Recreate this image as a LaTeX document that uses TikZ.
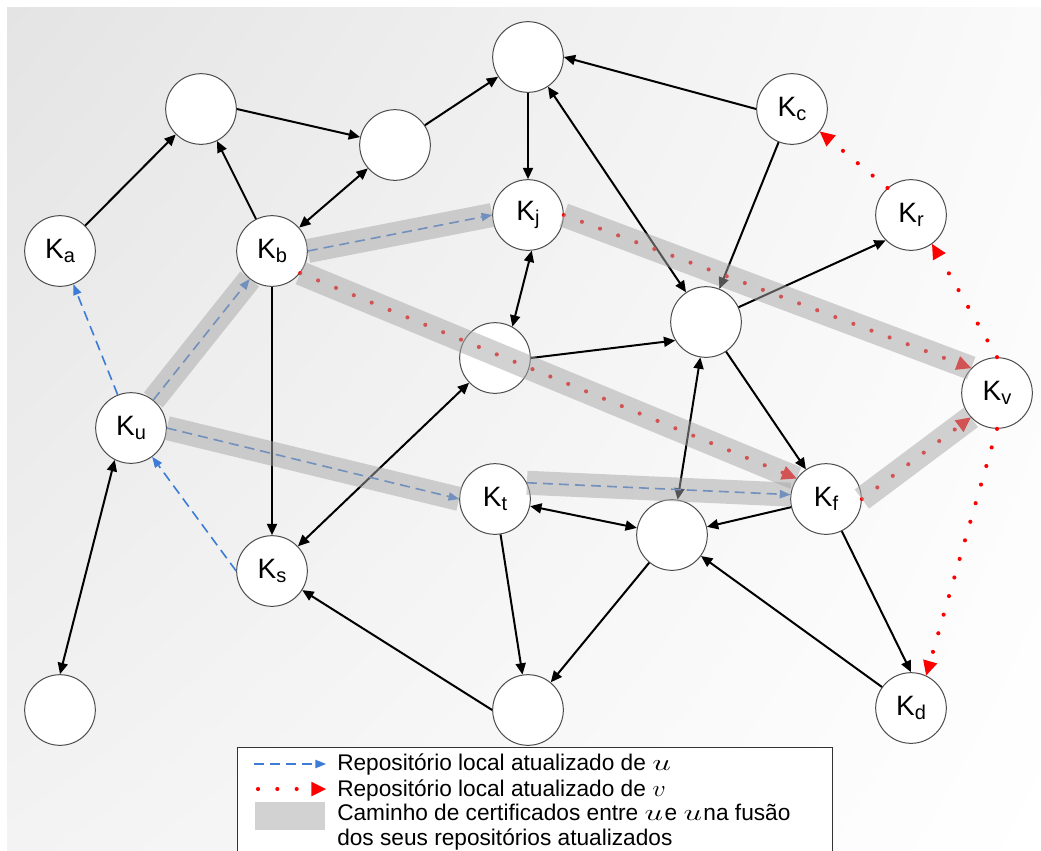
\documentclass[tikz,border=0pt]{standalone}
\usepackage{fontspec}
\usepackage{graphicx}
\setmainfont{Liberation Sans}
\usetikzlibrary{arrows.meta,shadings}
\definecolor{bluearr}{HTML}{3C7BD6}
\definecolor{redarr}{HTML}{FF0000}
\definecolor{bandgray}{HTML}{A6A6A6}
\definecolor{bgtl}{HTML}{E4E4E4}
\definecolor{bgtr}{HTML}{FAFAFA}
\definecolor{bgbl}{HTML}{F3F3F3}
\newcommand{\Klab}[1]{K\raisebox{-3.5pt}{\fontsize{15}{15}\selectfont #1}}
\newcommand{\mU}{\scalebox{1.45}[1.0]{$u$}}
\newcommand{\mV}{\scalebox{1.15}[1.0]{$v$}}
\begin{document}
\begin{tikzpicture}[x=0.75pt,y=-0.75pt,
  knode/.style={circle, draw=black!70, line width=0.75pt, fill=white, minimum size=53pt, inner sep=0pt, font=\fontsize{21}{21}\selectfont},
  edge/.style={line width=1.5pt, -{Triangle[length=8.5pt,width=7.5pt]}},
  bedge/.style={line width=1.5pt, {Triangle[length=8.5pt,width=7.5pt]}-{Triangle[length=8.5pt,width=7.5pt]}},
  uarr/.style={draw=bluearr, line width=1.2pt, dash pattern=on 7.5pt off 4.5pt, -{Triangle[length=8pt,width=6.5pt,line width=0pt]}},
  varr/.style={draw=redarr, line width=3.1pt, line cap=round, dash pattern=on 0pt off 14.5pt, -{Triangle[length=11pt,width=11pt,line width=0pt]}},
  band/.style={draw=bandgray, line width=18pt, opacity=0.5},
  legtext/.style={anchor=base west, inner sep=0pt, font=\fontsize{17}{20}\selectfont}
]
\useasboundingbox (0,0) rectangle (1041,850);
\clip (0,0) rectangle (1041,850);
\fill[white] (0,0) rectangle (1041,850);
\shade[upper left=bgtl, upper right=bgtr, lower left=bgbl, lower right=white] (7,7) rectangle (1041,850);

% nodes
\node[knode] (T)  at (528,57)  {};
\node[knode] (N1) at (201,109) {};
\node[knode] (N2) at (395,145) {};
\node[knode] (Ka) at (60,251)  {\Klab{a}};
\node[knode] (Kb) at (272,251) {\Klab{b}};
\node[knode] (Kj) at (528,215) {\Klab{j}};
\node[knode] (Kc) at (792,109) {\Klab{c}};
\node[knode] (Kr) at (911,215) {\Klab{r}};
\node[knode] (M)  at (706,322) {};
\node[knode] (L)  at (495,358) {};
\node[knode] (Kv) at (997,393) {\Klab{v}};
\node[knode] (Ku) at (131,428) {\Klab{u}};
\node[knode] (Kt) at (495,499) {\Klab{t}};
\node[knode] (Kf) at (826,499) {\Klab{f}};
\node[knode] (C)  at (672,535) {};
\node[knode] (Ks) at (272,571) {\Klab{s}};
\node[knode] (BL) at (60,710)  {};
\node[knode] (B)  at (528,710) {};
\node[knode] (Kd) at (911,708) {\Klab{d}};

% black edges
\draw[edge] (Ka) -- (N1);
\draw[edge] (Kb) -- (N1);
\draw[edge] (N1.east) -- (N2);
\draw[edge] (N2) -- (T);
\draw[bedge] (Kb) -- (N2);
\draw[edge] (T) -- (Kj);
\draw[edge] (Kc.west) -- (T.east);
\draw[bedge] (T) -- (M);
\draw[edge] (Kc) -- (M);
\draw[edge] (M) -- (Kr.225);
\draw[bedge] (Kj.-84) -- (L.61);
\draw[edge] (L.east) -- (M.211);
\draw[edge] (M) -- (Kf);
\draw[bedge] (C) -- (M);
\draw[edge] (Kb) -- (Ks);
\draw[bedge] (Ks) -- (L);
\draw[bedge] (Ku.-117) -- (BL.north);
\draw[bedge] (Kt) -- (C);
\draw[edge] (Kf) -- (C);
\draw[edge] (Kt) -- (B);
\draw[edge] (C) -- (B);
\draw[edge] (Kd) -- (C);
\draw[edge] (Kf) -- (Kd.north);
\draw[edge] (B.west) -- (Ks);

% blue dashed (u)
\draw[uarr] (Ku) -- (Ka);
\draw[uarr] (Ks.west) -- (Ku);
\draw[uarr] (Ku) -- (Kb);
\draw[uarr] (Kb.east) -- (Kj.west);
\draw[uarr] (Ku.east) -- (Kt.west);
\draw[uarr] (Kt.27) -- (Kf.173);

% red dotted (v)
\draw[varr] (Kb.-38) -- (Kf.145);
\draw[varr] (Kj.east) -- (Kv.136);
\draw[varr] (Kf.east) -- (Kv.223);
\draw[varr] (Kv.north) -- (Kr.-54);
\draw[varr] (Kr.131) -- (Kc.-39);
\draw[varr] (Kv.south) -- (Kd.65);

% certificate path bands
\draw[band] (Ku) -- (Kb);
\draw[band] (Kb.east) -- (Kj.west);
\draw[band] (Ku.east) -- (Kt.west);
\draw[band] (Kt.27) -- (Kf.173);
\draw[band] (Kb.-38) -- (Kf.145);
\draw[band] (Kj.east) -- (Kv.136);
\draw[band] (Kf.east) -- (Kv.223);

% legend
\draw[fill=white, draw=black!80, line width=0.75pt] (237,747) rectangle (832,880);
\coordinate (lu1) at (254,764);
\coordinate (lu2) at (326,764);
\coordinate (lv1) at (258,789);
\coordinate (lv2) at (326,789);
\draw[uarr] (lu1) -- (lu2);
\draw[varr] (lv1) -- (lv2);
\fill[bandgray, opacity=0.5] (255,802) rectangle (325,830);
\node[legtext] (t1) at (337,770) {Repositório local atualizado de \mU};
\node[legtext] (t2) at (337,796) {Repositório local atualizado de \mV};
\node[legtext] (t3) at (337,820) {Caminho de certificados entre \mU\kern1pt e \mU\kern1pt na fusão};
\node[legtext] (t4) at (337,845) {dos seus repositórios atualizados};
\end{tikzpicture}
\end{document}
